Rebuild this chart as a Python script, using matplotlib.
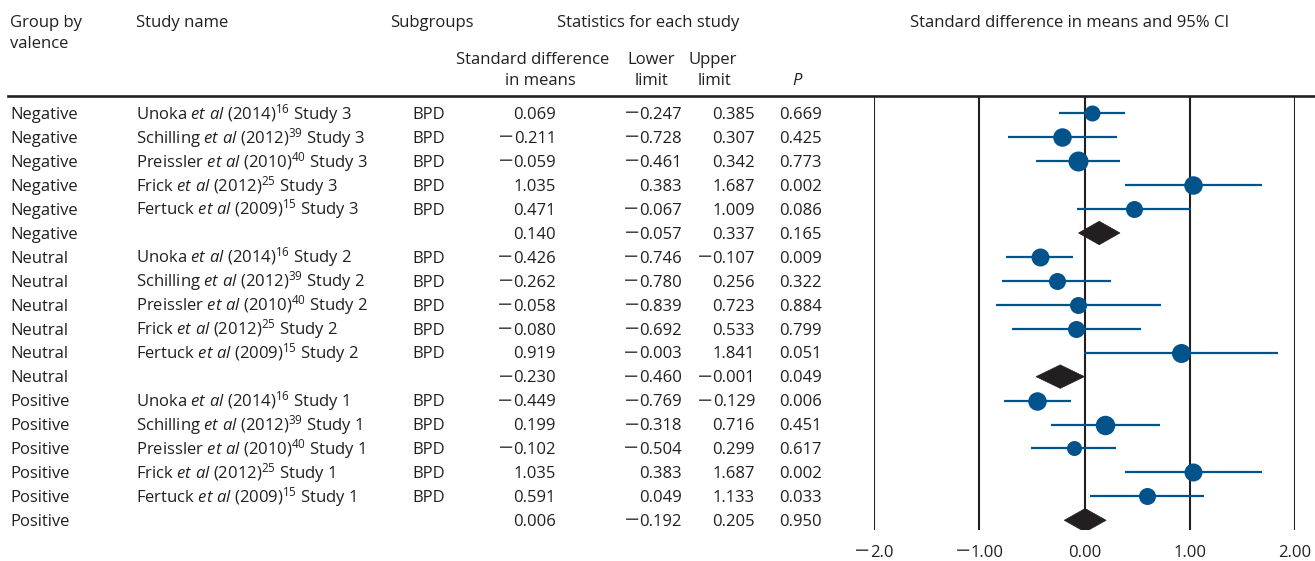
import matplotlib
matplotlib.use("Agg")
import matplotlib.pyplot as plt
import matplotlib.transforms as mtransforms
from matplotlib.lines import Line2D
from matplotlib.patches import Polygon

plt.rcParams['font.family'] = ['Open Sans', 'DejaVu Sans']
plt.rcParams['mathtext.fontset'] = 'custom'
plt.rcParams['mathtext.rm'] = 'Open Sans'
plt.rcParams['mathtext.it'] = 'Open Sans:italic'

# ---------------- data ----------------
groups = ["Negative"] * 6 + ["Neutral"] * 6 + ["Positive"] * 6
authors = ["Unoka", "Schilling", "Preissler", "Frick", "Fertuck", None] * 3
years = ["2014", "2012", "2010", "2012", "2009", None] * 3
refs = ["16", "39", "40", "25", "15", None] * 3
study_nums = ["3"] * 6 + ["2"] * 6 + ["1"] * 6
subgroups = ["BPD", "BPD", "BPD", "BPD", "BPD", ""] * 3
smd = [0.069, -0.211, -0.059, 1.035, 0.471, 0.140,
       -0.426, -0.262, -0.058, -0.080, 0.919, -0.230,
       -0.449, 0.199, -0.102, 1.035, 0.591, 0.006]
lower = [-0.247, -0.728, -0.461, 0.383, -0.067, -0.057,
         -0.746, -0.780, -0.839, -0.692, -0.003, -0.460,
         -0.769, -0.318, -0.504, 0.383, 0.049, -0.192]
upper = [0.385, 0.307, 0.342, 1.687, 1.009, 0.337,
         -0.107, 0.256, 0.723, 0.533, 1.841, -0.001,
         -0.129, 0.716, 0.299, 1.687, 1.133, 0.205]
pvals = [0.669, 0.425, 0.773, 0.002, 0.086, 0.165,
         0.009, 0.322, 0.884, 0.799, 0.051, 0.049,
         0.006, 0.451, 0.617, 0.002, 0.033, 0.950]
is_summary = [False, False, False, False, False, True] * 3
# relative marker weight (diameter in px as seen)
weights = [16, 18.5, 20, 18.5, 17, 0,
           18, 17, 17, 17, 19, 0,
           18.5, 19.5, 15, 18, 17, 0]
xticks = [-2.0, -1.0, 0.0, 1.0, 2.0]
xtick_decimals = [1, 2, 2, 2, 2]

# ---------------- layout ----------------
W, H = 1315, 561
DPI = 100
TXT = '#231f20'
BLUE = '#02538c'
FS = 12
MFS = 14  # size of the (wide) minus sign
MCOL = '#4a4647'

fig = plt.figure(figsize=(W / DPI, H / DPI), dpi=DPI)
renderer = fig.canvas.get_renderer()

def fx(px):
    return px / W

def fy(py):
    return 1 - py / H

def shift(dx, dy=0):
    return mtransforms.ScaledTranslation(dx / DPI, dy / DPI, fig.dpi_scale_trans)

row0, pitch = 113.3, 23.94
ax_top, ax_bot = 96, 530
ax_left, ax_right = 874, 1295
ax = fig.add_axes([fx(ax_left), fy(ax_bot), fx(ax_right) - fx(ax_left), (ax_bot - ax_top) / H])
n = len(smd)
ax.set_xlim(-2, 2)
ax.set_ylim((ax_bot - row0) / pitch, (ax_top - row0) / pitch)
for s in ax.spines.values():
    s.set_visible(False)
ax.set_yticks([])
ax.set_xticks(xticks)
ax.set_xticklabels([])
ax.tick_params(axis='x', length=0)
ax.patch.set_visible(False)

for xv in xticks:
    ax.axvline(xv, color=TXT, lw=1.5, zorder=1)

for i in range(n):
    if is_summary[i]:
        poly = Polygon([[lower[i], i], [smd[i], i - 0.49], [upper[i], i], [smd[i], i + 0.49]],
                       closed=True, facecolor=TXT, edgecolor=TXT, lw=0.5, zorder=3)
        ax.add_patch(poly)
    else:
        ax.plot([lower[i], upper[i]], [i, i], color=BLUE, lw=1.6, zorder=2,
                solid_capstyle='butt')
        ax.plot([smd[i]], [i], marker='o', ms=weights[i] / (DPI / 72), color=BLUE,
                mec=BLUE, mew=0, zorder=4)

# top rule across the table
fig.add_artist(Line2D([fx(8), fx(1315)], [fy(96), fy(96)], color=TXT, lw=1.9))

# minus-sign width
_m = fig.text(0, 0, "\u2212", family='DejaVu Sans', fontsize=MFS)
MW = _m.get_window_extent(renderer).width
_m.remove()
GAP = -0.5

def signed_text(x, y, value, decimals, tr, ha='right'):
    digits = f"{abs(value):.{decimals}f}"
    neg = value < 0
    t = fig.text(x, y, digits, transform=tr, ha='right', va='baseline',
                 fontsize=FS, color=TXT)
    dw = t.get_window_extent(renderer).width
    total = dw + (MW + GAP if neg else 0)
    sh = 0 if ha == 'right' else total / 2
    t.set_transform(tr + shift(sh))
    if neg:
        fig.text(x, y, "\u2212", transform=tr + shift(sh - dw - GAP, 0.8), ha='right',
                 va='baseline', family='DejaVu Sans', fontsize=MFS, color=MCOL)

# tick labels
tick_tr = mtransforms.blended_transform_factory(ax.transData, ax.transAxes) + shift(0, -27)
for xv, d in zip(xticks, xtick_decimals):
    signed_text(xv, 0, xv, d, tick_tr, ha='center')

# ---------------- headers ----------------
def htext(x, y, s, ha='left', **kw):
    fig.text(fx(x), fy(y), s, ha=ha, va='baseline', fontsize=FS, color=TXT, **kw)

htext(10, 27, "Group by")
htext(10, 48, "valence")
htext(136, 27, "Study name")
htext(390, 27, "Subgroups")
htext(648, 27, "Statistics for each study", ha='center')
htext(1070, 27, "Standard difference in means and 95% CI", ha='center')
htext(533, 64, "Standard difference", ha='center')
htext(540, 85, "in means", ha='center')
htext(651, 64, "Lower", ha='center')
htext(651, 85, "limit", ha='center')
htext(713, 64, "Upper", ha='center')
htext(714, 85, "limit", ha='center')
htext(797, 85, "P", ha='center', style='italic')

# ---------------- row texts ----------------
trans = mtransforms.blended_transform_factory(fig.transFigure, ax.transData)
rt = trans + shift(0, -5.8)

for i in range(n):
    kw = dict(transform=rt, va='baseline', fontsize=FS, color=TXT)
    fig.text(fx(10), i, groups[i], ha='left', **kw)
    if authors[i]:
        name = (f"{authors[i]} $\\mathit{{et\\ al}}$ ({years[i]})$^{{{refs[i]}}}$ "
                f"Study {study_nums[i]}")
        fig.text(fx(136), i, name, ha='left', **kw)
    fig.text(fx(412), i, subgroups[i], ha='left', **kw)
    signed_text(fx(556), i, smd[i], 3, rt)
    signed_text(fx(682), i, lower[i], 3, rt)
    signed_text(fx(755), i, upper[i], 3, rt)
    fig.text(fx(822), i, f"{pvals[i]:.3f}", ha='right', **kw)

fig.savefig("out.png", dpi=DPI)
